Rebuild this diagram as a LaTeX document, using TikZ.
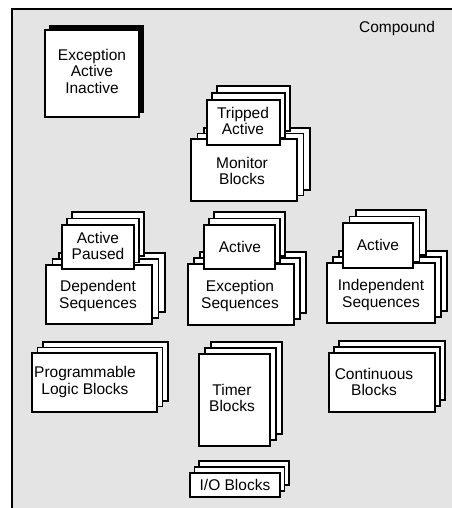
\documentclass[tikz,border=0pt]{standalone}
\usepackage{fontspec}
\setmainfont{Liberation Sans}
\definecolor{bg}{HTML}{E4E4E4}
\tikzset{
  bx/.style={draw=black, line width=1.8pt, fill=white},
  lbl/.style={font=\fontsize{15.5}{16.5}\selectfont, align=center, inner sep=0pt},
}
% stack of three cards: front box (#1,#2)-(#3,#4), back copies shifted right #5 and up #6
\newcommand\blkstack[6]{%
  \foreach \k in {2,1}{\draw[bx,shift={(\k*#5,-\k*#6)}] (#1,#2) rectangle (#3,#4);}
  \draw[bx] (#1,#2) rectangle (#3,#4);}
\begin{document}
\begin{tikzpicture}[x=1pt,y=-1pt]
\useasboundingbox (0,0) rectangle (451,508);
\fill[white] (0,0) rectangle (451,508);
\fill[bg] (12,9) rectangle (452,509);
\draw[line width=2.5pt] (12,509) -- (12,9) -- (452,9);
\node[lbl] (compound) at (397,28) {Compound};

% Exception / Active / Inactive
\fill[black] (49,25) rectangle (144,113);
\draw[bx, line width=1.6pt] (45,30) rectangle (139,117);
\node[lbl] (exc) at (92,71) {Exception\\Active\\Inactive};

% Monitor blocks
\blkstack{191}{139}{297}{201}{6.5}{5.5}
\blkstack{207}{100}{280}{145}{5}{7}
\node[lbl] (tripped) at (243,121) {Tripped\\Active};
\node[lbl] (monitor) at (242,171) {Monitor\\Blocks};

% Dependent sequences
\blkstack{46}{265}{152}{324}{6.5}{6}
\blkstack{62}{225}{134}{269}{5}{6.5}
\node[lbl] (depstate) at (98,246) {Active\\Paused};
\node[lbl] (dep) at (98,296) {Dependent\\Sequences};

% Exception sequences
\blkstack{188}{264}{294}{325}{6}{6}
\blkstack{204}{225}{275}{269}{5}{6.5}
\node[lbl] (excstate) at (240,247) {Active};
\node[lbl] (excseq) at (240,296) {Exception\\Sequences};

% Independent sequences
\blkstack{327}{263}{435}{323}{6}{6}
\blkstack{343}{223}{413}{268}{6.5}{6.5}
\node[lbl] (indstate) at (378,245) {Active};
\node[lbl] (ind) at (381,295) {Independent\\Sequences};

% Programmable logic blocks
\blkstack{32}{353}{157}{412}{5.5}{5.5}
\node[lbl] (plb) at (85,382) {Programmable\\Logic Blocks};

% Timer blocks
\blkstack{199}{354}{270}{446}{6}{6}
\node[lbl] (timer) at (232,398) {Timer\\Blocks};

% Continuous blocks
\blkstack{329}{353}{435}{412}{5}{6}
\node[lbl] (cont) at (374,382) {Continuous\\Blocks};

% I/O blocks
\blkstack{190}{473}{280}{497}{4.5}{6}
\node[lbl] (io) at (235,485) {I/O Blocks};
\end{tikzpicture}
\end{document}
